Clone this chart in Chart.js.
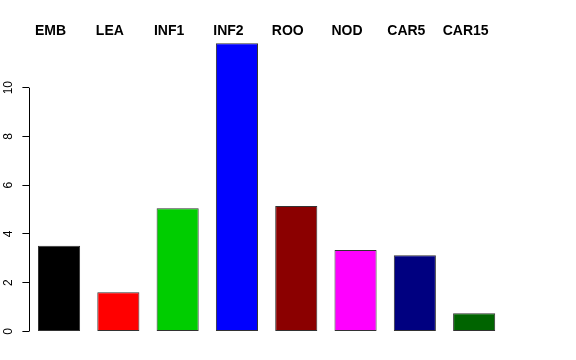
<!DOCTYPE html>
<html>
<head>
<meta charset="utf-8">
<script src="https://cdn.jsdelivr.net/npm/chart.js@4"></script>
<style>
  html, body { margin: 0; padding: 0; background: #fff; }
  #wrap { width: 576px; height: 360px; }
</style>
</head>
<body>
<div id="wrap"><canvas id="barChart" width="576" height="360"></canvas></div>
<script>
// Data
const tissues = ["EMB", "LEA", "INF1", "INF2", "ROO", "NOD", "CAR5", "CAR15"];
const values = [3.52, 1.61, 5.05, 11.82, 5.15, 3.34, 3.13, 0.75];
const barColors = ["#000000", "#FF0000", "#00CD00", "#0000FF", "#8B0000", "#FF00FF", "#000080", "#006400"];
const yTicks = [0, 2, 4, 6, 8, 10];

// R style axis line: only from first to last tick
const axisLine = {
    id: 'axisLine',
    afterDraw(chart) {
        const y = chart.scales.y;
        const c = chart.ctx;
        const x = Math.round(y.right) + 0.5;
        c.save();
        c.strokeStyle = '#000';
        c.lineWidth = 1;
        c.beginPath();
        c.moveTo(x, y.getPixelForValue(yTicks[0]));
        c.lineTo(x, y.getPixelForValue(yTicks[yTicks.length - 1]));
        c.stroke();
        c.restore();
    }
};

const ctx = document.getElementById('barChart').getContext('2d');
const barChart = new Chart(ctx, {
    type: 'bar',
    data: {
        labels: tissues,
        datasets: [{
            data: values,
            backgroundColor: barColors,
            borderColor: '#333',
            borderWidth: 1,
            borderSkipped: false,
            barPercentage: 0.71,
            categoryPercentage: 1
        }]
    },
    options: {
        responsive: false,
        animation: false,
        layout: { padding: { left: 0, right: 72.2, top: 0, bottom: 28.5 } },
        plugins: { legend: { display: false }, tooltip: { enabled: false } },
        scales: {
            x: {
                position: 'top',
                grid: { display: false, drawTicks: false },
                border: { display: false },
                ticks: {
                    color: '#000',
                    font: { family: 'Liberation Sans, Arial, sans-serif', size: 14, weight: 'bold' },
                    labelOffset: -8.5,
                    padding: -1,
                    maxRotation: 0,
                    autoSkip: false
                },
                afterFit(scale) { scale.height = 38.9; }
            },
            y: {
                min: 0,
                max: 12,
                grid: { drawOnChartArea: false, drawTicks: true, tickLength: 7, color: '#000' },
                border: { display: false },
                afterBuildTicks(scale) {
                    scale.ticks = yTicks.map(v => ({ value: v }));
                },
                ticks: {
                    color: '#000',
                    font: { family: 'Liberation Sans, Arial, sans-serif', size: 12 },
                    minRotation: 90,
                    maxRotation: 90,
                    crossAlign: 'center',
                    padding: 7
                },
                afterFit(scale) { scale.width = 29.4; }
            }
        }
    },
    plugins: [axisLine]
});
</script>
</body>
</html>
